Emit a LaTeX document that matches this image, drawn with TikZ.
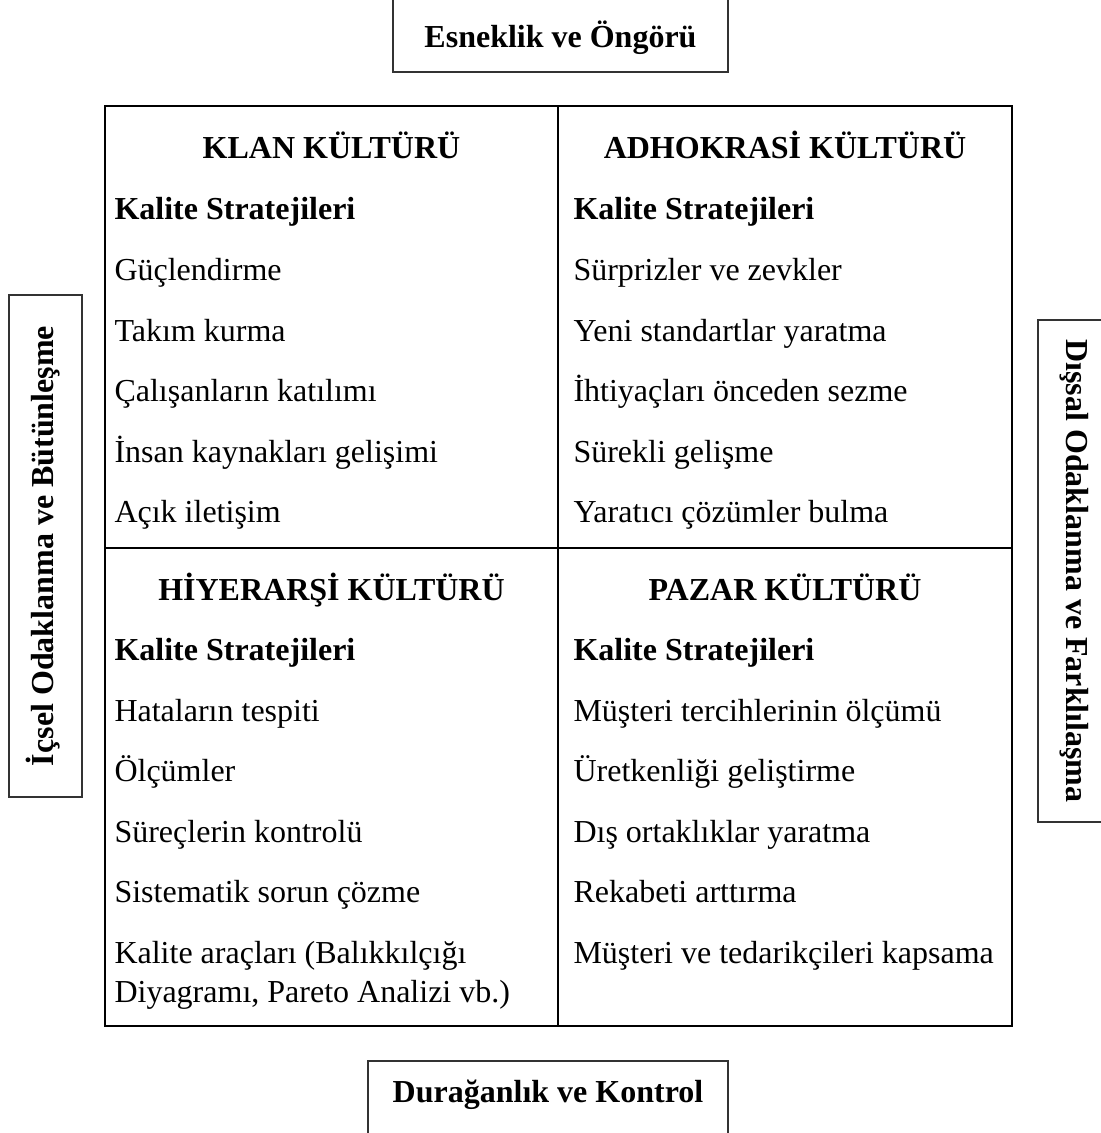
\documentclass[tikz,border=0pt]{standalone}
\usepackage{fontspec}
\setmainfont{Liberation Serif}
\begin{document}
\begin{tikzpicture}[x=0.375pt,y=-0.375pt,font=\fontsize{12}{14}\selectfont]
\tikzset{
  boldtext/.style={font=\fontsize{12}{14}\selectfont\bfseries},
  frame/.style={line width=1.1pt},
  axisbox/.style={draw=black!80,line width=0.8pt,boldtext,inner sep=0pt},
  head/.style={boldtext,anchor=base,inner sep=0pt},
  sub/.style={boldtext,anchor=base west,inner sep=0pt},
  item/.style={anchor=base west,inner sep=0pt},
}
\useasboundingbox (0,0) rectangle (1101,1133);

% axis labels round the matrix
\node[axisbox,minimum width=125.6pt,minimum height=27.75pt,text height=9pt,text depth=0pt]
  (top) at (560.5,35) {Esneklik ve Öngörü};
\node[axisbox,minimum width=135pt,minimum height=27.75pt,text height=8pt,text depth=5pt]
  (bottom) at (548,1098) {Durağanlık ve Kontrol};
\node[axisbox,rotate=90,minimum width=188.25pt,minimum height=27.4pt,text height=8pt,text depth=2pt]
  (left) at (45.5,546) {İçsel Odaklanma ve Bütünleşme};
\node[axisbox,rotate=-90,minimum width=188.25pt,minimum height=27.4pt,text height=8pt,text depth=2pt]
  (right) at (1074.5,571) {Dışsal Odaklanma ve Farklılaşma};

% the 2x2 matrix
\draw[frame] (105,106) rectangle (1012,1026);
\draw[frame] (558,106) -- (558,1026);
\draw[frame] (105,548) -- (1012,548);

% clan culture
\node[head] (klan) at (331.5,158) {KLAN KÜLTÜRÜ};
\node[sub]  (klan-s) at (114,219) {Kalite Stratejileri};
\node[item] (klan-1) at (114,280) {Güçlendirme};
\node[item] (klan-2) at (114,341) {Takım kurma};
\node[item] (klan-3) at (114,401) {Çalışanların katılımı};
\node[item] (klan-4) at (114,462) {İnsan kaynakları gelişimi};
\node[item] (klan-5) at (114,522) {Açık iletişim};

% adhocracy culture
\node[head] (adho) at (785,158) {ADHOKRASİ KÜLTÜRÜ};
\node[sub]  (adho-s) at (573,219) {Kalite Stratejileri};
\node[item] (adho-1) at (573,280) {Sürprizler ve zevkler};
\node[item] (adho-2) at (573,341) {Yeni standartlar yaratma};
\node[item] (adho-3) at (573,401) {İhtiyaçları önceden sezme};
\node[item] (adho-4) at (573,462) {Sürekli gelişme};
\node[item] (adho-5) at (573,522) {Yaratıcı çözümler bulma};

% hierarchy culture
\node[head] (hier) at (331.5,600) {HİYERARŞİ KÜLTÜRÜ};
\node[sub]  (hier-s) at (114,660) {Kalite Stratejileri};
\node[item] (hier-1) at (114,721) {Hataların tespiti};
\node[item] (hier-2) at (114,781) {Ölçümler};
\node[item] (hier-3) at (114,842) {Süreçlerin kontrolü};
\node[item] (hier-4) at (114,902) {Sistematik sorun çözme};
\node[item] (hier-5a) at (114,963) {Kalite araçları (Balıkkılçığı};
\node[item] (hier-5b) at (114,1002) {Diyagramı, Pareto Analizi vb.)};

% market culture
\node[head] (pazar) at (785,600) {PAZAR KÜLTÜRÜ};
\node[sub]  (pazar-s) at (573,660) {Kalite Stratejileri};
\node[item] (pazar-1) at (573,721) {Müşteri tercihlerinin ölçümü};
\node[item] (pazar-2) at (573,781) {Üretkenliği geliştirme};
\node[item] (pazar-3) at (573,842) {Dış ortaklıklar yaratma};
\node[item] (pazar-4) at (573,902) {Rekabeti arttırma};
\node[item] (pazar-5) at (573,963) {Müşteri ve tedarikçileri kapsama};
\end{tikzpicture}
\end{document}
